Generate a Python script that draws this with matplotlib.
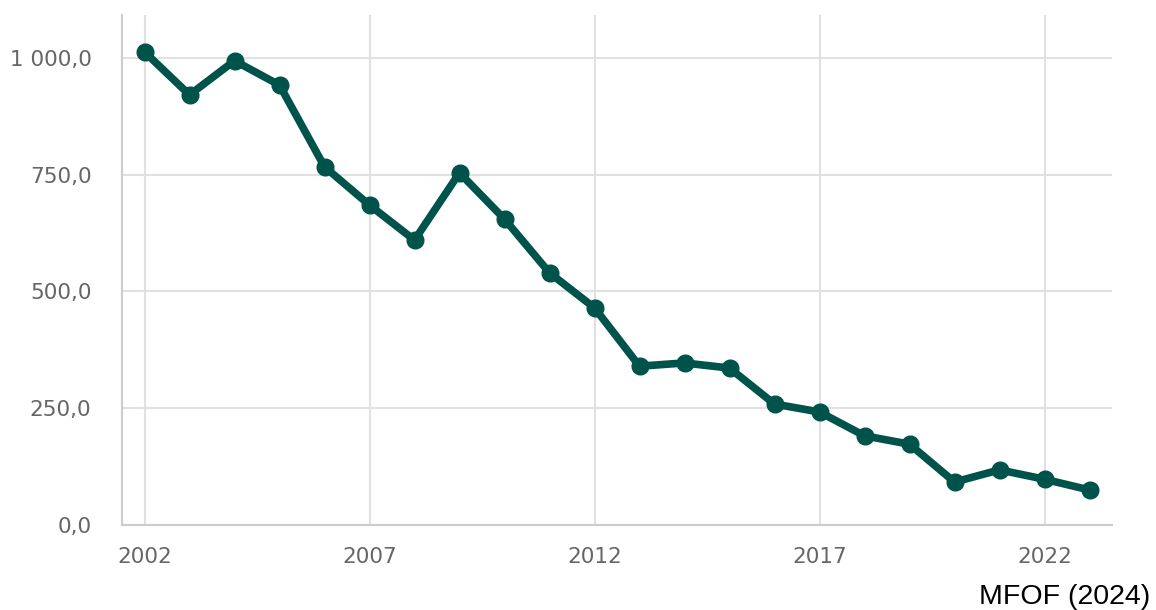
import matplotlib
matplotlib.use('Agg')
import matplotlib.pyplot as plt
from matplotlib.ticker import FuncFormatter

years = list(range(2002, 2024))
values = [1013, 921, 994, 942, 767, 685, 610, 754, 655, 540, 465,
          340, 347, 336, 259, 242, 191, 173, 92, 118, 98, 75]
x_ticks = [2002, 2007, 2012, 2017, 2022]
y_ticks = [0, 250, 500, 750, 1000]
source = 'MFOF (2024)'

line_color = '#00534a'
grid_color = '#e1e1e1'

fig = plt.figure(figsize=(11.56, 6.10), dpi=100)
ax = fig.add_axes([122 / 1156, 1 - 525 / 610, (1112 - 122) / 1156, (525 - 15) / 610])

ax.plot(years, values, color=line_color, linewidth=5.5, marker='o', markersize=12,
        solid_capstyle='round', solid_joinstyle='round', zorder=3)

ax.set_xlim(2001.5, 2023.5)
ax.set_ylim(0, 1092)
ax.set_xticks(x_ticks)
ax.set_yticks(y_ticks)


def fmt(v, pos):
    s = f'{v:,.1f}'.replace(',', ' ').replace('.', ',')
    return s


ax.yaxis.set_major_formatter(FuncFormatter(fmt))
ax.grid(True, color=grid_color, linewidth=1.5, zorder=0)
ax.tick_params(length=0, labelsize=15.5, labelcolor='#666666', pad=16)
ax.tick_params(axis='y', pad=22)
for lbl in ax.get_xticklabels() + ax.get_yticklabels():
    lbl.set_family('DejaVu Sans')

for s in ['top', 'right']:
    ax.spines[s].set_visible(False)
for s in ['left', 'bottom']:
    ax.spines[s].set_color('#cccccc')
    ax.spines[s].set_linewidth(1.5)

fig.text(1150 / 1156, 1 - 604 / 610, source, ha='right', va='baseline',
         fontsize=20.5, family='Liberation Sans', color='black')

fig.savefig('out.png', dpi=100, facecolor='white')
